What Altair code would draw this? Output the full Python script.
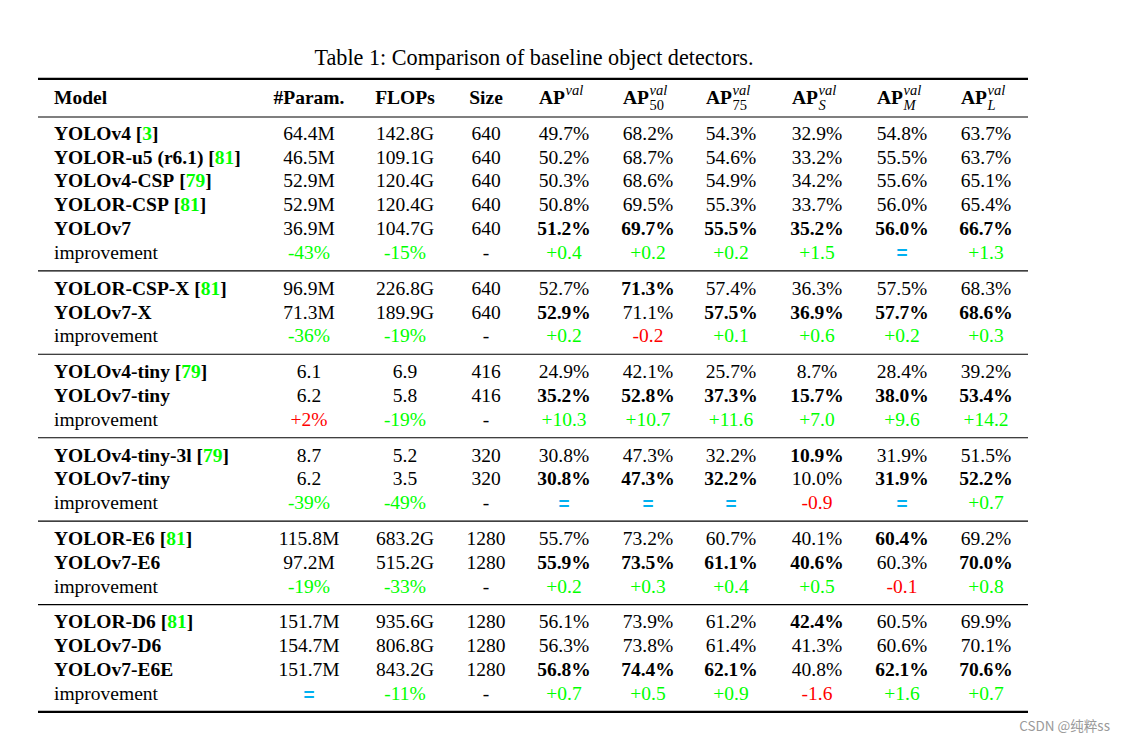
import altair as alt
import pandas as pd

FONT = "Liberation Serif"
FS = 19.5

TITLE = "Table 1: Comparison of baseline object detectors."
WATERMARK = "CSDN @纯粹ss"

HEAD_PLAIN = ["Model", "#Param.", "FLOPs", "Size"]
AP_SUP = ["val", "val", "val", "val", "val", "val"]
AP_SUB = ["", "50", "75", "S", "M", "L"]

GROUP_SIZES = [6, 3, 3, 3, 3, 4]
MODELS = ["YOLOv4", "YOLOR-u5 (r6.1)", "YOLOv4-CSP", "YOLOR-CSP", "YOLOv7", "improvement",
          "YOLOR-CSP-X", "YOLOv7-X", "improvement",
          "YOLOv4-tiny", "YOLOv7-tiny", "improvement",
          "YOLOv4-tiny-3l", "YOLOv7-tiny", "improvement",
          "YOLOR-E6", "YOLOv7-E6", "improvement",
          "YOLOR-D6", "YOLOv7-D6", "YOLOv7-E6E", "improvement"]
CITES = ["3", "81", "79", "81", "", "",
         "81", "", "",
         "79", "", "",
         "79", "", "",
         "81", "", "",
         "81", "", "", ""]
PARAMS = ["64.4M", "46.5M", "52.9M", "52.9M", "36.9M", "-43%",
          "96.9M", "71.3M", "-36%",
          "6.1", "6.2", "+2%",
          "8.7", "6.2", "-39%",
          "115.8M", "97.2M", "-19%",
          "151.7M", "154.7M", "151.7M", "="]
FLOPS = ["142.8G", "109.1G", "120.4G", "120.4G", "104.7G", "-15%",
         "226.8G", "189.9G", "-19%",
         "6.9", "5.8", "-19%",
         "5.2", "3.5", "-49%",
         "683.2G", "515.2G", "-33%",
         "935.6G", "806.8G", "843.2G", "-11%"]
SIZES = ["640", "640", "640", "640", "640", "-",
         "640", "640", "-",
         "416", "416", "-",
         "320", "320", "-",
         "1280", "1280", "-",
         "1280", "1280", "1280", "-"]
AP = ["49.7%", "50.2%", "50.3%", "50.8%", "51.2%", "+0.4",
      "52.7%", "52.9%", "+0.2",
      "24.9%", "35.2%", "+10.3",
      "30.8%", "30.8%", "=",
      "55.7%", "55.9%", "+0.2",
      "56.1%", "56.3%", "56.8%", "+0.7"]
AP50 = ["68.2%", "68.7%", "68.6%", "69.5%", "69.7%", "+0.2",
        "71.3%", "71.1%", "-0.2",
        "42.1%", "52.8%", "+10.7",
        "47.3%", "47.3%", "=",
        "73.2%", "73.5%", "+0.3",
        "73.9%", "73.8%", "74.4%", "+0.5"]
AP75 = ["54.3%", "54.6%", "54.9%", "55.3%", "55.5%", "+0.2",
        "57.4%", "57.5%", "+0.1",
        "25.7%", "37.3%", "+11.6",
        "32.2%", "32.2%", "=",
        "60.7%", "61.1%", "+0.4",
        "61.2%", "61.4%", "62.1%", "+0.9"]
APS = ["32.9%", "33.2%", "34.2%", "33.7%", "35.2%", "+1.5",
       "36.3%", "36.9%", "+0.6",
       "8.7%", "15.7%", "+7.0",
       "10.9%", "10.0%", "-0.9",
       "40.1%", "40.6%", "+0.5",
       "42.4%", "41.3%", "40.8%", "-1.6"]
APM = ["54.8%", "55.5%", "55.6%", "56.0%", "56.0%", "=",
       "57.5%", "57.7%", "+0.2",
       "28.4%", "38.0%", "+9.6",
       "31.9%", "31.9%", "=",
       "60.4%", "60.3%", "-0.1",
       "60.5%", "60.6%", "62.1%", "+1.6"]
APL = ["63.7%", "63.7%", "65.1%", "65.4%", "66.7%", "+1.3",
       "68.3%", "68.6%", "+0.3",
       "39.2%", "53.4%", "+14.2",
       "51.5%", "52.2%", "+0.7",
       "69.2%", "70.0%", "+0.8",
       "69.9%", "70.1%", "70.6%", "+0.7"]

COLS = [PARAMS, FLOPS, SIZES, AP, AP50, AP75, APS, APM, APL]

# ---------------- layout (scales) ----------------
X_DOMAIN = [-1, 0, 1, 2, 3, 4, 5, 6, 7, 8, 9, 10]
X_RANGE = [30, 46, 301, 397, 478, 556, 640, 723, 809, 894, 978, 1020]
Y_DOMAIN = [0, 25]
Y_RANGE = [90, 686]
xs = alt.Scale(domain=X_DOMAIN, range=X_RANGE, type="linear", zero=False, nice=False)
ys = alt.Scale(domain=Y_DOMAIN, range=Y_RANGE, type="linear", zero=False, nice=False)
COLOR_SCALE = alt.Scale(domain=["black", "green", "red", "blue"],
                        range=["#000000", "#00ff00", "#ff0000", "#00b0f0"])

# Times-Bold advance widths (1/1000 em) for the citation offset
BW = {"Y": 722, "O": 778, "L": 667, "v": 500, "R": 722, "-": 333, "u": 556, " ": 250,
      "(": 333, ")": 333, "r": 444, ".": 250, "C": 722, "S": 556, "P": 611, "X": 722,
      "t": 333, "i": 278, "n": 556, "y": 500, "l": 278, "E": 667, "D": 722,
      "[": 333, "]": 333}


def bold_width(s):
    return sum(BW.get(c, 500) for c in s) * FS / 1000.0


# row slots
slots, groups, is_imp = [], [], []
thin_rules, thick_rules = [0.8], [-0.8]
s = 1.5
for gi, n in enumerate(GROUP_SIZES):
    for r in range(n):
        slots.append(s)
        groups.append(gi)
        is_imp.append(r == n - 1)
        s += 1
    sep = s - 1 + 0.75
    if gi == len(GROUP_SIZES) - 1:
        thick_rules.append(sep)
    else:
        thin_rules.append(sep)
    s += 0.5


def num(v):
    return float(v.rstrip("%"))


bold_cells = set()
for ci, col in enumerate(COLS):
    if ci < 3:
        continue
    for gi in range(len(GROUP_SIZES)):
        rows = [i for i in range(len(slots)) if groups[i] == gi and not is_imp[i]]
        m = max(num(col[i]) for i in rows)
        last = max(i for i in rows if num(col[i]) == m)
        bold_cells.add((last, ci))


def imp_color(v, ci):
    if v == "=":
        return "blue"
    if v == "-":
        return "black"
    if ci < 2:
        return "green" if v.startswith("-") else "red"
    return "green" if v.startswith("+") else "red"


cells = []
for ri in range(len(slots)):
    for ci, col in enumerate(COLS):
        v = col[ri]
        color = imp_color(v, ci) if is_imp[ri] else "black"
        bold = (ri, ci) in bold_cells
        cells.append({"x": ci + 1, "y": slots[ri], "t": v, "bold": bold, "c": color,
                      "eq": v == "="})
cells = pd.DataFrame(cells)

models = pd.DataFrame({"x": [0] * len(slots), "y": slots, "t": MODELS,
                       "bold": [not f for f in is_imp]})

seg0 = X_RANGE[2] - X_RANGE[1]
cites = []
for ri, cite in enumerate(CITES):
    if not cite:
        continue
    x0 = bold_width(MODELS[ri] + " ") / seg0
    cites.append({"x": x0, "y": slots[ri], "t": "[", "c": "black"})
    cites.append({"x": x0 + bold_width("[") / seg0, "y": slots[ri], "t": cite, "c": "green"})
    cites.append({"x": x0 + (bold_width("[") + bold_width(cite)) / seg0, "y": slots[ri], "t": "]", "c": "black"})
cites = pd.DataFrame(cites)

head_left = pd.DataFrame({"x": [0], "y": [0], "t": [HEAD_PLAIN[0]]})
head_center = pd.DataFrame({"x": [1, 2, 3], "y": [0, 0, 0], "t": HEAD_PLAIN[1:]})
head_ap = pd.DataFrame({"x": [4, 5, 6, 7, 8, 9], "y": [0] * 6, "t": ["AP"] * 6})
head_sup = pd.DataFrame({"x": [4, 5, 6, 7, 8, 9], "y": [0] * 6, "t": AP_SUP})
head_sub = pd.DataFrame({"x": [5, 6, 7, 8, 9], "y": [0] * 5, "t": AP_SUB[1:],
                         "digit": [t.isdigit() for t in AP_SUB[1:]]})

rules_thin = pd.DataFrame({"x": [-1] * len(thin_rules), "x2": [10] * len(thin_rules), "y": thin_rules})
rules_thick = pd.DataFrame({"x": [-1] * len(thick_rules), "x2": [10] * len(thick_rules), "y": thick_rules})


def enc(extra=None):
    d = dict(x=alt.X("x:Q", scale=xs, axis=None), y=alt.Y("y:Q", scale=ys, axis=None),
             text="t:N")
    if extra:
        d.update(extra)
    return d


COLOR_ENC = {"color": alt.Color("c:N", scale=COLOR_SCALE, legend=None)}
SUP_FS = 14.5

layers = []
layers.append(alt.Chart(rules_thin).mark_rule(color="#000000", strokeWidth=1.1).encode(
    x=alt.X("x:Q", scale=xs, axis=None), x2="x2:Q", y=alt.Y("y:Q", scale=ys, axis=None)))
layers.append(alt.Chart(rules_thick).mark_rule(color="#000000", strokeWidth=2.2).encode(
    x=alt.X("x:Q", scale=xs, axis=None), x2="x2:Q", y=alt.Y("y:Q", scale=ys, axis=None)))

# header
layers.append(alt.Chart(head_left).mark_text(font=FONT, fontSize=FS, fontWeight="bold",
                                             align="left", baseline="middle", color="#000").encode(**enc()))
layers.append(alt.Chart(head_center).mark_text(font=FONT, fontSize=FS, fontWeight="bold",
                                               align="center", baseline="middle", color="#000").encode(**enc()))
layers.append(alt.Chart(head_ap).mark_text(font=FONT, fontSize=FS, fontWeight="bold",
                                           align="right", baseline="middle", color="#000", dx=1).encode(**enc()))
layers.append(alt.Chart(head_sup).mark_text(font=FONT, fontSize=SUP_FS, fontStyle="italic",
                                            align="left", baseline="middle", color="#000",
                                            dx=1.5, dy=-7.5).encode(**enc()))
layers.append(alt.Chart(head_sub).transform_filter("!datum.digit").mark_text(
    font=FONT, fontSize=SUP_FS, fontStyle="italic", align="left", baseline="middle", color="#000",
    dx=1.5, dy=7.5).encode(**enc()))
layers.append(alt.Chart(head_sub).transform_filter("datum.digit").mark_text(
    font=FONT, fontSize=SUP_FS, align="left", baseline="middle", color="#000",
    dx=1.5, dy=7.5).encode(**enc()))

# model names
layers.append(alt.Chart(models).transform_filter("datum.bold").mark_text(
    font=FONT, fontSize=FS, fontWeight="bold", align="left", baseline="middle", color="#000").encode(**enc()))
layers.append(alt.Chart(models).transform_filter("!datum.bold").mark_text(
    font=FONT, fontSize=FS, align="left", baseline="middle", color="#000").encode(**enc()))
layers.append(alt.Chart(cites).mark_text(
    font=FONT, fontSize=FS, fontWeight="bold", align="left", baseline="middle").encode(**enc(COLOR_ENC)))

# values
layers.append(alt.Chart(cells).transform_filter("!datum.bold && !datum.eq").mark_text(
    font=FONT, fontSize=FS, align="center", baseline="middle").encode(**enc(COLOR_ENC)))
layers.append(alt.Chart(cells).transform_filter("datum.bold && !datum.eq").mark_text(
    font=FONT, fontSize=FS, fontWeight="bold", align="center", baseline="middle").encode(**enc(COLOR_ENC)))
layers.append(alt.Chart(cells).transform_filter("datum.eq").mark_text(
    font="Liberation Sans", fontSize=19, fontWeight="bold", align="center", baseline="middle",
    dy=0.5).encode(**enc(COLOR_ENC)))

# title & watermark
layers.append(alt.Chart(pd.DataFrame({"t": [TITLE]})).mark_text(
    font=FONT, fontSize=22.2, align="center", baseline="middle", color="#000").encode(
    x=alt.value(526), y=alt.value(50), text="t:N"))
layers.append(alt.Chart(pd.DataFrame({"t": [WATERMARK]})).mark_text(
    font="Noto Sans CJK SC", fontSize=13.5, align="right", baseline="middle", color="#9a9a9a").encode(
    x=alt.value(1102), y=alt.value(719), text="t:N"))

chart = alt.layer(*layers).properties(
    width=1109, height=727, padding=0,
    autosize=alt.AutoSizeParams(type="none"),
    background="#ffffff",
).configure_view(stroke=None)

chart.save("out.html", embed_options={"renderer": "svg", "actions": False})
